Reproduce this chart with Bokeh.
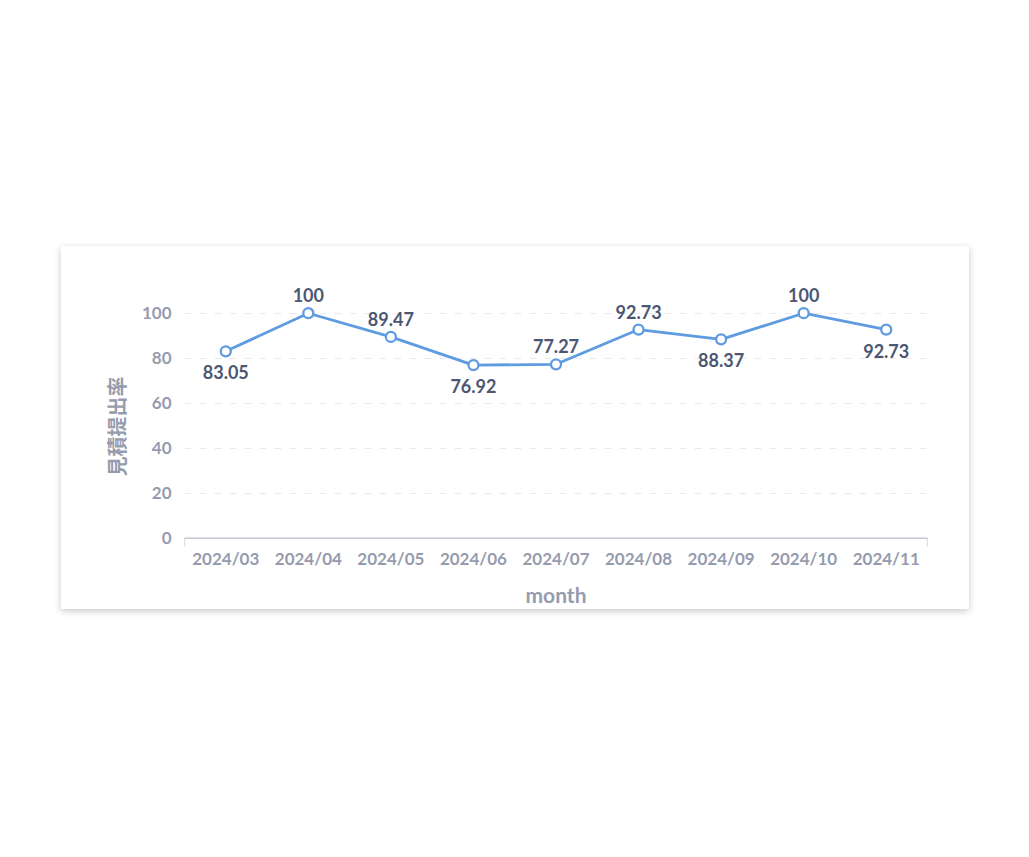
from bokeh.plotting import figure
from bokeh.models import ColumnDataSource, Range1d, FactorRange, Title, FixedTicker
from bokeh.core.properties import value
from bokeh.embed import file_html
from bokeh.resources import INLINE

months = ["2024/03", "2024/04", "2024/05", "2024/06", "2024/07",
          "2024/08", "2024/09", "2024/10", "2024/11"]
rates = [83.05, 100, 89.47, 76.92, 77.27, 92.73, 88.37, 100, 92.73]
rate_labels = ["83.05", "100", "89.47", "76.92", "77.27", "92.73", "88.37", "100", "92.73"]
label_side = ["below", "above", "above", "below", "above", "above", "below", "above", "below"]
y_ticks = [0, 20, 40, 60, 80, 100]
x_title = "month"
y_title = "見積提出率"

BLUE = "#5e9be0"
DARK = "#4c5773"
GREY = "#969cad"
FONT = "Lato"

offsets = [-18 if s == "above" else 21 for s in label_side]
src = ColumnDataSource(dict(month=months, rate=rates, txt=rate_labels, yoff=offsets))

p = figure(width=908, height=363, x_range=FactorRange(*months, range_padding=0),
           y_range=Range1d(-3.75, 119), output_backend="svg", toolbar_location=None,
           min_border_left=123, min_border_right=42, min_border_top=24, min_border_bottom=61)
p.margin = (246, 0, 0, 61)
p.styles = {"box-shadow": "0 2px 7px rgba(0,0,0,0.22)"}
p.outline_line_color = None
p.background_fill_color = "white"
p.border_fill_color = "white"

# grid
p.xgrid.grid_line_color = None
p.ygrid.ticker = FixedTicker(ticks=y_ticks[1:])
p.ygrid.grid_line_color = "#e9e9ee"
p.ygrid.grid_line_dash = "7 8"
p.ygrid.grid_line_width = 1

# y axis
p.yaxis.ticker = FixedTicker(ticks=y_ticks)
p.yaxis.axis_line_color = None
p.yaxis.major_tick_line_color = None
p.yaxis.minor_tick_line_color = None
p.yaxis.major_tick_out = 0
p.yaxis.major_label_standoff = 13
p.yaxis.major_label_text_font = FONT
p.yaxis.major_label_text_font_style = "bold"
p.yaxis.major_label_text_font_size = "17px"
p.yaxis.major_label_text_color = GREY

# x axis
p.xaxis.axis_line_color = None
p.xaxis.major_tick_line_color = None
p.xaxis.major_tick_out = 0
p.xaxis.major_label_standoff = 1
p.xaxis.major_label_text_font = FONT
p.xaxis.major_label_text_font_style = "bold"
p.xaxis.major_label_text_font_size = "17px"
p.xaxis.major_label_text_color = GREY
p.xaxis.axis_label = x_title
p.xaxis.axis_label_text_font = FONT
p.xaxis.axis_label_text_font_style = "bold"
p.xaxis.axis_label_text_font_size = "21px"
p.xaxis.axis_label_text_color = GREY
p.xaxis.axis_label_standoff = 10

# baseline with end ticks
n = len(months)
p.segment(x0=[0], y0=[0], x1=[n], y1=[0], line_color="#b8bcc8", line_width=1.2)
p.segment(x0=[0, n], y0=[0, 0], x1=[0, n], y1=[-3.75, -3.75], line_color="#b8bcc8", line_width=1.2)

# series
p.line(x="month", y="rate", source=src, line_color=BLUE, line_width=2.8)
p.scatter(x="month", y="rate", source=src, size=10, fill_color="white",
          line_color=BLUE, line_width=2.3)
p.text(x="month", y="rate", text="txt", y_offset="yoff", source=src,
       text_align="center", text_baseline="middle", text_font=value(FONT),
       text_font_style="bold", text_font_size="18px", text_color=DARK)

# y axis title (left panel, placed on the 0-100 band)
p.add_layout(Title(text=y_title, align="left", offset=70, standoff=15,
                   text_font="Noto Sans CJK JP", text_font_style="bold",
                   text_font_size="20px", text_color=GREY), "left")

open("out.html", "w").write(file_html(p, INLINE))
